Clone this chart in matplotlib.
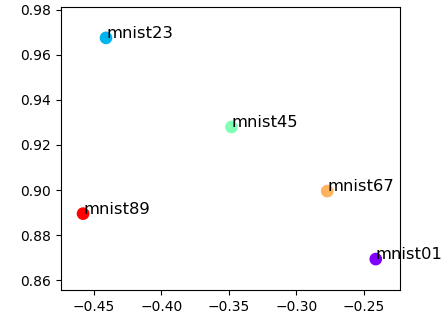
import numpy as np
import matplotlib
matplotlib.use('Agg')
from matplotlib import pyplot as plt

labels = ['mnist01', 'mnist23', 'mnist45', 'mnist67', 'mnist89']
xs = [-0.241, -0.441, -0.348, -0.277, -0.458]
ys = [0.8693, 0.9676, 0.928, 0.8995, 0.8895]

fig = plt.figure(figsize=(4.44, 3.2), dpi=100)
fig.subplots_adjust(left=0.137, right=0.901, top=0.978, bottom=0.094)
ax = fig.add_subplot(111)

colors = plt.cm.rainbow(np.linspace(0, 1, len(labels)))
ax.scatter(xs, ys, c=colors, s=66)
for lab, x, y in zip(labels, xs, ys):
    ax.text(x, y, lab, fontsize=11.8)

ax.set_xlim(-0.4745, -0.223)
ax.set_ylim(0.8556, 0.9813)
fig.savefig('out.png')
